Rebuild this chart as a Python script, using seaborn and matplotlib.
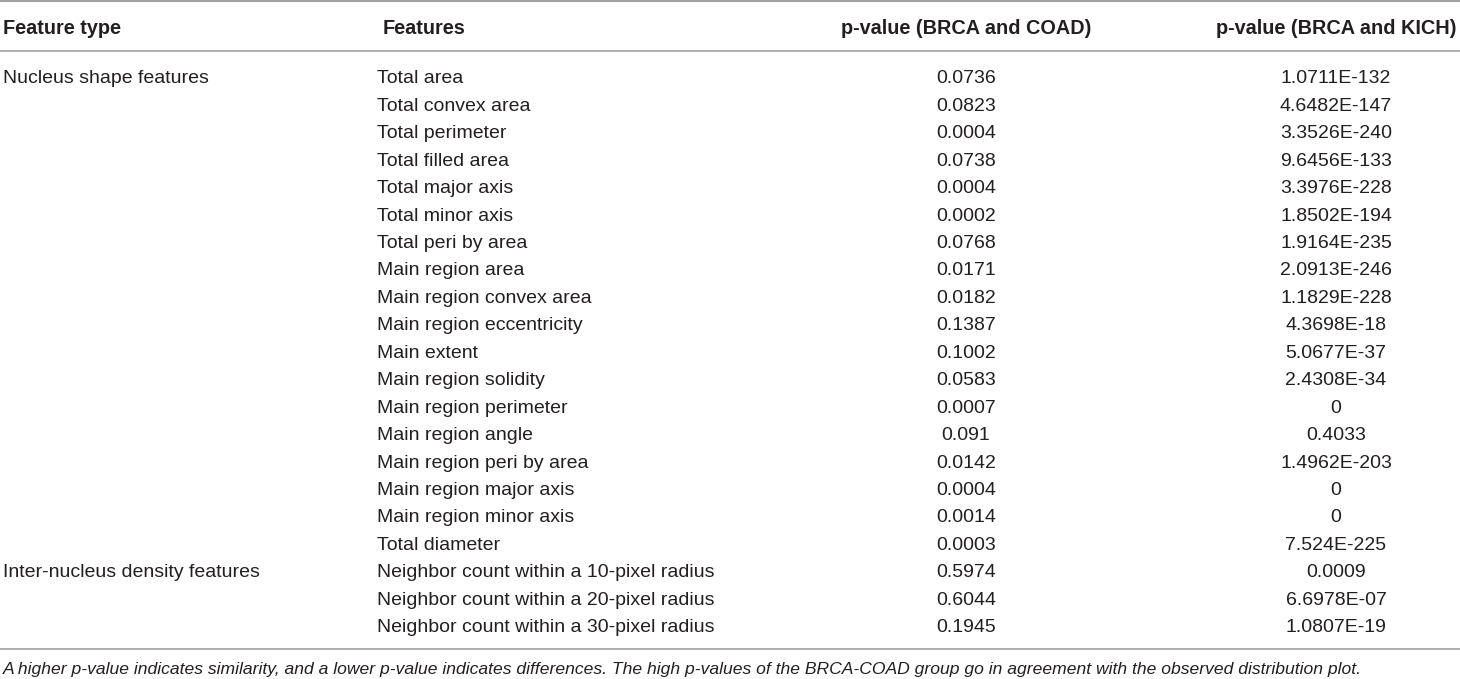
import matplotlib
matplotlib.use("Agg")
import matplotlib.pyplot as plt
import seaborn as sns
import pandas as pd

feature_types = ["Nucleus shape features"] + [""] * 17 + ["Inter-nucleus density features", "", ""]
features = [
    "Total area", "Total convex area", "Total perimeter", "Total filled area",
    "Total major axis", "Total minor axis", "Total peri by area", "Main region area",
    "Main region convex area", "Main region eccentricity", "Main extent",
    "Main region solidity", "Main region perimeter", "Main region angle",
    "Main region peri by area", "Main region major axis", "Main region minor axis",
    "Total diameter", "Neighbor count within a 10-pixel radius",
    "Neighbor count within a 20-pixel radius", "Neighbor count within a 30-pixel radius",
]
p_coad = ["0.0736", "0.0823", "0.0004", "0.0738", "0.0004", "0.0002", "0.0768",
          "0.0171", "0.0182", "0.1387", "0.1002", "0.0583", "0.0007", "0.091",
          "0.0142", "0.0004", "0.0014", "0.0003", "0.5974", "0.6044", "0.1945"]
p_kich = ["1.0711E-132", "4.6482E-147", "3.3526E-240", "9.6456E-133", "3.3976E-228",
          "1.8502E-194", "1.9164E-235", "2.0913E-246", "1.1829E-228", "4.3698E-18",
          "5.0677E-37", "2.4308E-34", "0", "0.4033", "1.4962E-203", "0", "0",
          "7.524E-225", "0.0009", "6.6978E-07", "1.0807E-19"]
headers = ["Feature type", "Features", "p-value (BRCA and COAD)", "p-value (BRCA and KICH)"]
caption = ("A higher p-value indicates similarity, and a lower p-value indicates differences. "
           "The high p-values of the BRCA-COAD group go in agreement with the observed distribution plot.")

df = pd.DataFrame({"type": feature_types, "feature": features, "coad": p_coad, "kich": p_kich})

sns.set_theme(style="white")
plt.rcParams["font.family"] = ["Liberation Sans", "DejaVu Sans"]

W, H = 1460, 679
fig = plt.figure(figsize=(W / 100, H / 100), dpi=100)
ax = fig.add_axes([0, 0, 1, 1])
ax.set_xlim(0, W)
ax.set_ylim(H, 0)
ax.axis("off")

txt = "#231f20"
line_c = "#a3a3a3"
fs = 14
fs_head = 14.3
fs_cap = 12.6

col_x = [3, 377, 966, 1336]
col_ha = ["left", "left", "center", "center"]
header_x = [3, 383, 966, 1336]

y_head = 33.5
y0 = 83.3
dy = 27.45

ax.axhline(0.8, color=line_c, lw=1.5)
ax.axhline(50.5, color=line_c, lw=1.2)
for x, h, ha in zip(header_x, headers, col_ha):
    ax.text(x, y_head, h, ha=ha, va="baseline", fontsize=fs_head, fontweight="bold", color=txt)

cols = ["type", "feature", "coad", "kich"]
for i, row in df.iterrows():
    y = y0 + i * dy
    for x, c, ha in zip(col_x, cols, col_ha):
        if row[c]:
            ax.text(x, y, row[c], ha=ha, va="baseline", fontsize=fs, color=txt)

ax.axhline(649, color=line_c, lw=1.2)
ax.text(3, 674, caption, ha="left", va="baseline", fontsize=fs_cap, fontstyle="italic", color=txt)

fig.savefig("out.png", dpi=100, facecolor="white")
